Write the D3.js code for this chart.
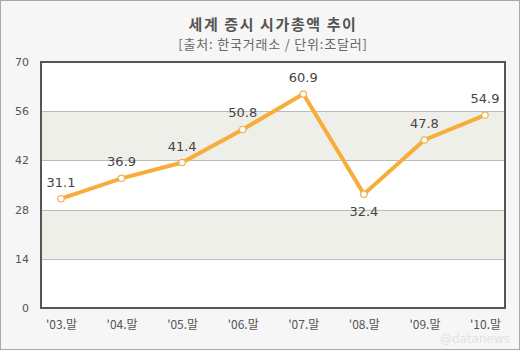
<!DOCTYPE html>
<html><head><meta charset="utf-8">
<script src="https://cdn.jsdelivr.net/npm/d3@7"></script>
<style>body{margin:0;background:#fff}svg{display:block}</style>
</head><body>
<svg id="c" width="520" height="350"></svg>
<script>
const categories = ["'03.말","'04.말","'05.말","'06.말","'07.말","'08.말","'09.말","'10.말"];
const values = [31.1, 36.9, 41.4, 50.8, 60.9, 32.4, 47.8, 54.9];
const yTicks = [0, 14, 28, 42, 56, 70];
const labelPos = ["above","above","above","above","above","below","above","above"];
const title = "세계 증시 시가총액 추이";
const subtitle = "[출처: 한국거래소 / 단위:조달러]";

const svg = d3.select("#c");
const W = 520, H = 350;
const L = 41, R = 505, T = 62, B = 308;
const kr = "'Noto Sans CJK KR', sans-serif";

svg.append("rect").attr("x",0.5).attr("y",0.5).attr("width",W-1).attr("height",H-1)
  .attr("fill","#f6f6f6").attr("stroke","#a8a8a8");

svg.append("text").attr("x",273).attr("y",30).attr("text-anchor","middle")
  .attr("font-family",kr).attr("font-weight","bold").attr("font-size",15).attr("letter-spacing",1.6)
  .attr("fill","#555").text(title);
svg.append("text").attr("x",273).attr("y",49).attr("text-anchor","middle")
  .attr("font-family",kr).attr("font-size",13).attr("letter-spacing",0.8).attr("fill","#666").text(subtitle);

const y = d3.scaleLinear().domain([0,70]).range([B,T]);
const x = d3.scalePoint().domain(categories).range([L+20, R-20]);

const g = svg.append("g");
g.append("rect").attr("x",L).attr("y",T).attr("width",R-L).attr("height",B-T).attr("fill","#fff");
[[14,28],[42,56]].forEach(([a,b])=>{
  g.append("rect").attr("x",L).attr("y",y(b)).attr("width",R-L).attr("height",y(a)-y(b)).attr("fill","#efefe9");
});
g.selectAll(".grid").data(yTicks.filter(d=>d>0&&d<70)).join("line")
  .attr("x1",L).attr("x2",R).attr("y1",d=>Math.round(y(d))+0.5).attr("y2",d=>Math.round(y(d))+0.5)
  .attr("stroke","#bbb").attr("stroke-width",1);

const yAxis = d3.axisLeft(y).tickValues(yTicks).tickSize(0).tickPadding(12);
const ya = svg.append("g").attr("transform",`translate(${L},0)`).call(yAxis);
ya.select(".domain").remove();
ya.selectAll("text").attr("font-family","'DejaVu Sans', sans-serif").attr("font-size",11).attr("fill","#555");

const xAxis = d3.axisBottom(x).tickSize(0).tickPadding(12);
const xa = svg.append("g").attr("transform",`translate(0,${B})`).call(xAxis);
xa.select(".domain").remove();
xa.selectAll("text").attr("font-family",kr).attr("font-size",12).attr("fill","#555");

svg.append("rect").attr("x",L).attr("y",T).attr("width",R-L).attr("height",B-T)
  .attr("fill","none").attr("stroke","#555").attr("stroke-width",2);

const line = d3.line().x((d,i)=>x(categories[i])).y(d=>y(d));
svg.append("path").datum(values).attr("d",line).attr("fill","none")
  .attr("stroke","#f8ad3a").attr("stroke-width",4).attr("stroke-linejoin","miter");

svg.selectAll(".pt").data(values).join("circle")
  .attr("cx",(d,i)=>x(categories[i])).attr("cy",d=>y(d)).attr("r",3.2)
  .attr("fill","#fff").attr("stroke","#f0b050").attr("stroke-width",1.2);

svg.selectAll(".lbl").data(values).join("text")
  .attr("x",(d,i)=>x(categories[i])).attr("y",(d,i)=>labelPos[i]==="above"? y(d)-12 : y(d)+22)
  .attr("text-anchor","middle").attr("font-family","'DejaVu Sans', sans-serif").attr("font-size",13)
  .attr("fill","#444").text(d=>d.toFixed(1));

svg.append("text").attr("x",510).attr("y",343).attr("text-anchor","end")
  .attr("font-family","'DejaVu Sans', sans-serif").attr("font-size",12).attr("fill","#e2e2e2")
  .text("@datanews");
</script>
</body></html>
